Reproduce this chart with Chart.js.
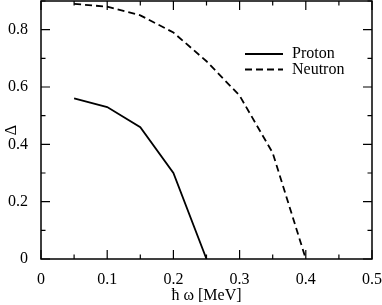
<!DOCTYPE html>
<html>
<head>
<meta charset="utf-8">
<script src="https://cdn.jsdelivr.net/npm/chart.js@4.4.1/dist/chart.umd.min.js"></script>
<style>
  html, body { margin: 0; padding: 0; background: #fff; }
  #wrap { width: 382px; height: 305px; }
</style>
</head>
<body>
<div id="wrap"><canvas id="gapChart"></canvas></div>
<script>
// hbar omega values [MeV]
var omegaProton = [0.05, 0.1, 0.15, 0.2, 0.25];
var omegaNeutron = [0.05, 0.1, 0.15, 0.2, 0.25, 0.3, 0.35, 0.4];
// pairing gap Delta
var deltaProton = [0.56, 0.53, 0.46, 0.30, 0.0];
var deltaNeutron = [0.89, 0.88, 0.85, 0.79, 0.69, 0.57, 0.37, 0.0];
var seriesNames = ["Proton", "Neutron"];

function toPoints(xs, ys) {
  var pts = [];
  for (var i = 0; i < xs.length; i++) pts.push({ x: xs[i], y: ys[i] });
  return pts;
}

var serif = "'Liberation Serif', 'DejaVu Serif', serif";

// inward ticks on all four sides, plus the frame and a small legend
var frameAndTicks = {
  id: 'frameAndTicks',
  afterDraw: function (chart) {
    var c = chart.ctx, a = chart.chartArea;
    var xs = chart.scales.x, ys = chart.scales.y;
    c.save();
    c.strokeStyle = '#000';
    c.lineWidth = 1.5;
    c.strokeRect(a.left, a.top, a.right - a.left, a.bottom - a.top);
    c.lineWidth = 1.2;
    c.beginPath();
    for (var i = 0; i <= 10; i++) {
      var px = xs.getPixelForValue(i * 0.05);
      var len = (i % 2 === 0) ? 9 : 4.5;
      c.moveTo(px, a.bottom); c.lineTo(px, a.bottom - len);
      c.moveTo(px, a.top); c.lineTo(px, a.top + len);
    }
    for (var j = 0; j <= 9; j++) {
      var py = ys.getPixelForValue(j * 0.1);
      var l2 = (j % 2 === 0) ? 9 : 4.5;
      c.moveTo(a.left, py); c.lineTo(a.left + l2, py);
      c.moveTo(a.right, py); c.lineTo(a.right - l2, py);
    }
    c.stroke();

    // legend
    c.lineWidth = 1.8;
    c.font = "16px " + serif;
    c.fillStyle = '#000';
    c.textBaseline = 'middle';
    var ds = chart.data.datasets;
    for (var k = 0; k < ds.length; k++) {
      var ly = 54 + k * 15.5;
      c.setLineDash(ds[k].borderDash || []);
      c.beginPath();
      c.moveTo(245, ly); c.lineTo(283, ly);
      c.stroke();
      c.setLineDash([]);
      c.fillText(ds[k].label, 292, ly);
    }
    c.restore();
  }
};

var ctx = document.getElementById("gapChart");
var gapChart = new Chart(ctx, {
  type: 'line',
  data: {
    datasets: [
      {
        label: seriesNames[0],
        data: toPoints(omegaProton, deltaProton),
        borderColor: '#000',
        borderWidth: 1.8,
        pointRadius: 0,
        fill: false,
        tension: 0
      },
      {
        label: seriesNames[1],
        data: toPoints(omegaNeutron, deltaNeutron),
        borderColor: '#000',
        borderWidth: 1.8,
        borderDash: [7, 4],
        pointRadius: 0,
        fill: false,
        tension: 0
      }
    ]
  },
  options: {
    responsive: true,
    maintainAspectRatio: false,
    animation: false,
    layout: { padding: { left: 0, right: 10, top: 1, bottom: 0 } },
    plugins: { legend: { display: false }, tooltip: { enabled: false } },
    scales: {
      x: {
        type: 'linear',
        min: 0,
        max: 0.5,
        grid: { display: false },
        border: { display: false },
        ticks: {
          stepSize: 0.1,
          maxRotation: 0,
          padding: 3,
          color: '#000',
          font: { family: serif, size: 16 }
        },
        title: {
          display: true,
          text: 'ħ ω [MeV]',
          color: '#000',
          padding: { top: 0, bottom: 0 },
          font: { family: serif, size: 16 }
        },
        afterFit: function (s) {
          s.height = 46;
          s.paddingLeft = 0; s.paddingRight = 0;
        }
      },
      y: {
        min: 0,
        max: 0.9,
        grid: { display: false },
        border: { display: false },
        ticks: {
          stepSize: 0.2,
          includeBounds: false,
          padding: 5,
          color: '#000',
          font: { family: serif, size: 16 }
        },
        title: {
          display: true,
          text: 'Δ',
          color: '#000',
          padding: { top: 2, bottom: 0 },
          font: { family: serif, size: 16 }
        },
        afterFit: function (s) {
          s.width = 41;
          s.paddingTop = 0; s.paddingBottom = 0;
        }
      }
    }
  },
  plugins: [frameAndTicks]
});
</script>
</body>
</html>
